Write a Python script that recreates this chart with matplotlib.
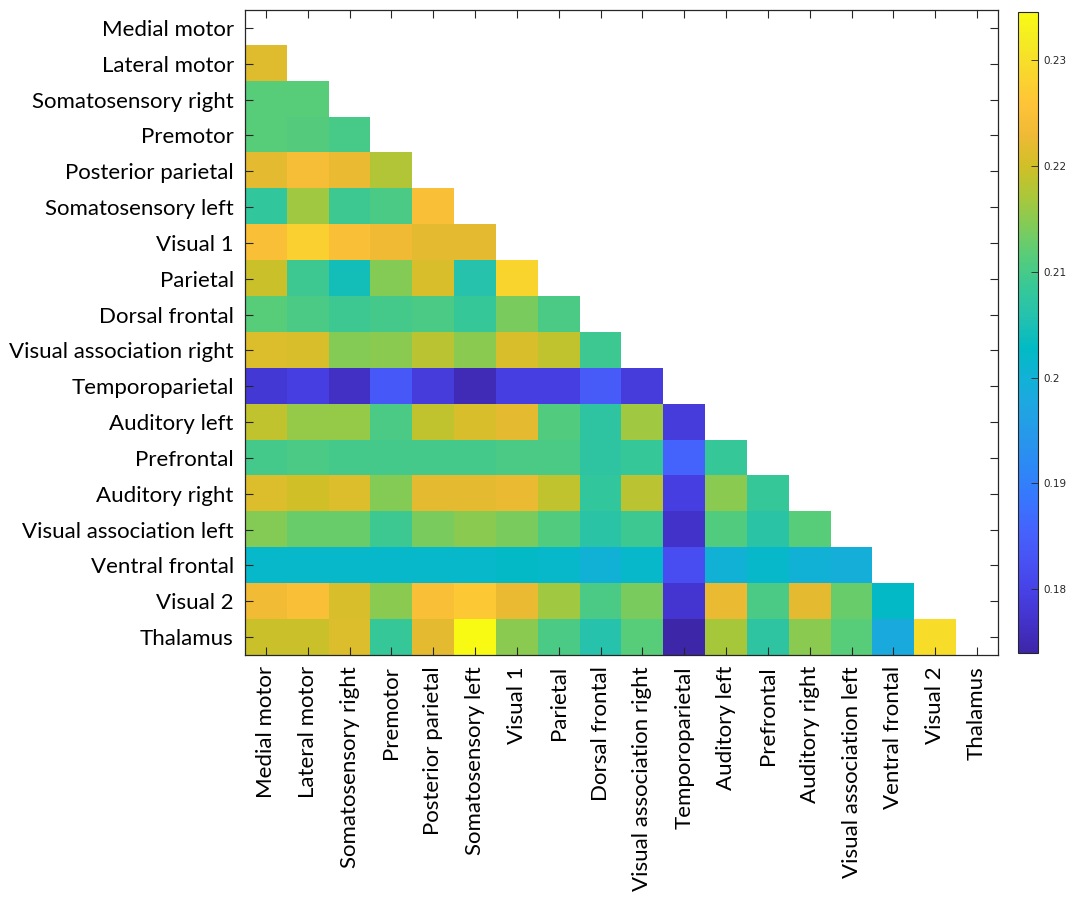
import numpy as np
import matplotlib
matplotlib.use("Agg")
import matplotlib.pyplot as plt
from matplotlib.colors import LinearSegmentedColormap

# network names, same order on both axes
regions = ["Medial motor", "Lateral motor", "Somatosensory right", "Premotor",
           "Posterior parietal", "Somatosensory left", "Visual 1", "Parietal",
           "Dorsal frontal", "Visual association right", "Temporoparietal",
           "Auditory left", "Prefrontal", "Auditory right",
           "Visual association left", "Ventral frontal", "Visual 2", "Thalamus"]

# lower triangle, one list per row (row i holds columns 0..i-1)
lateral_motor = [0.2215]
somatosensory_right = [0.2115, 0.2115]
premotor = [0.2115, 0.2112, 0.2100]
posterior_parietal = [0.2218, 0.2242, 0.2224, 0.2176]
somatosensory_left = [0.2079, 0.2164, 0.2091, 0.2103, 0.2248]
visual_1 = [0.2248, 0.2278, 0.2248, 0.2230, 0.2218, 0.2218]
parietal = [0.2194, 0.2091, 0.2043, 0.2145, 0.2206, 0.2061, 0.2285]
dorsal_frontal = [0.2115, 0.2103, 0.2091, 0.2097, 0.2103, 0.2085, 0.2139, 0.2103]
visual_assoc_right = [0.2212, 0.2206, 0.2145, 0.2151, 0.2182, 0.2151, 0.2206,
                      0.2188, 0.2091]
temporoparietal = [0.1782, 0.1794, 0.1764, 0.1837, 0.1788, 0.1752, 0.1794,
                   0.1794, 0.1843, 0.1788]
auditory_left = [0.2188, 0.2157, 0.2157, 0.2103, 0.2188, 0.2206, 0.2218,
                 0.2109, 0.2073, 0.2164, 0.1788]
prefrontal = [0.2097, 0.2103, 0.2097, 0.2097, 0.2097, 0.2097, 0.2103, 0.2103,
              0.2073, 0.2085, 0.1858, 0.2085]
auditory_right = [0.2212, 0.2200, 0.2212, 0.2145, 0.2218, 0.2218, 0.2224,
                  0.2188, 0.2079, 0.2182, 0.1794, 0.2151, 0.2085]
visual_assoc_left = [0.2145, 0.2127, 0.2127, 0.2091, 0.2139, 0.2151, 0.2139,
                     0.2109, 0.2067, 0.2091, 0.1770, 0.2109, 0.2067, 0.2115]
ventral_frontal = [0.2018, 0.2018, 0.2018, 0.2018, 0.2018, 0.2018, 0.2024,
                   0.2018, 0.2000, 0.2018, 0.1819, 0.2000, 0.2018, 0.2000,
                   0.1994]
visual_2 = [0.2236, 0.2248, 0.2206, 0.2151, 0.2248, 0.2266, 0.2224, 0.2164,
            0.2103, 0.2139, 0.1776, 0.2224, 0.2103, 0.2218, 0.2127, 0.2024]
thalamus = [0.2194, 0.2194, 0.2212, 0.2085, 0.2218, 0.2345, 0.2151, 0.2103,
            0.2061, 0.2115, 0.1740, 0.2170, 0.2073, 0.2151, 0.2115, 0.1982,
            0.2297]

rows = [[], lateral_motor, somatosensory_right, premotor, posterior_parietal,
        somatosensory_left, visual_1, parietal, dorsal_frontal,
        visual_assoc_right, temporoparietal, auditory_left, prefrontal,
        auditory_right, visual_assoc_left, ventral_frontal, visual_2, thalamus]

n = len(regions)
conn = np.full((n, n), np.nan)
for i, r in enumerate(rows):
    conn[i, :len(r)] = r

# parula-like colormap
parula_pts = [
    (0.2422, 0.1504, 0.6603), (0.2647, 0.1978, 0.7952), (0.2783, 0.2559, 0.8991),
    (0.2810, 0.3228, 0.9579), (0.2699, 0.3892, 0.9906), (0.2206, 0.4603, 0.9973),
    (0.1786, 0.5289, 0.9682), (0.1540, 0.5902, 0.9218), (0.1248, 0.6459, 0.8883),
    (0.0689, 0.6948, 0.8394), (0.0067, 0.7312, 0.7660), (0.1408, 0.7584, 0.6842),
    (0.2161, 0.7843, 0.5923), (0.3406, 0.8008, 0.4789), (0.5044, 0.7993, 0.3480),
    (0.6720, 0.7793, 0.2227), (0.8203, 0.7498, 0.1535), (0.9393, 0.7288, 0.2100),
    (0.9970, 0.7659, 0.2199), (0.9786, 0.8386, 0.1766), (0.9597, 0.9135, 0.1423),
    (0.9769, 0.9839, 0.0805)]
parula = LinearSegmentedColormap.from_list("parula", parula_pts, N=256)
parula.set_bad("white")

fig = plt.figure(figsize=(10.67, 8.99), dpi=100)
ax = fig.add_axes([0.2296, 0.2714, 0.7057, 0.7175])
cax = fig.add_axes([0.954, 0.2736, 0.0187, 0.7131])

edge = "#262626"
im = ax.imshow(np.ma.masked_invalid(conn), cmap=parula, aspect="auto",
               interpolation="nearest",
               vmin=np.nanmin(conn), vmax=np.nanmax(conn))

label_font = dict(family="Lato", size=16)
ax.set_xticks(np.arange(n))
ax.set_yticks(np.arange(n))
ax.set_xticklabels(regions, rotation=90, **label_font)
ax.set_yticklabels(regions, **label_font)
ax.tick_params(direction="in", length=6, width=0.8, color=edge,
               top=True, right=True, pad=8)
for s in ax.spines.values():
    s.set_color(edge)
    s.set_linewidth(0.9)

cb = fig.colorbar(im, cax=cax)
cb.set_ticks([0.18, 0.19, 0.20, 0.21, 0.22, 0.23])
cb.set_ticklabels(["0.18", "0.19", "0.2", "0.21", "0.22", "0.23"])
cb.ax.tick_params(direction="in", length=5, width=0.6, color=edge,
                  labelsize=7.5, labelcolor=edge, pad=4)
cb.outline.set_edgecolor(edge)
cb.outline.set_linewidth(0.8)

fig.savefig("out.png", dpi=100)
